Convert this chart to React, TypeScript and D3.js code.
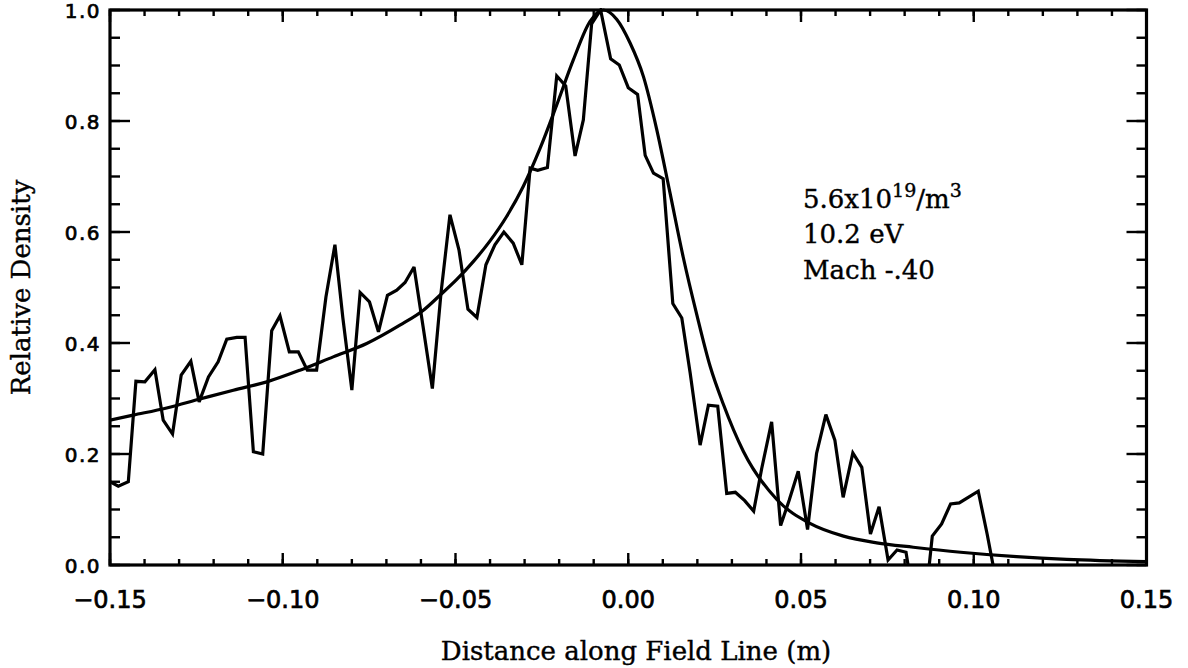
import * as d3 from "d3";

// measured profile (distance in m, relative density)
const distance = [
  -0.15, -0.1476, -0.1447, -0.1425, -0.1399, -0.137, -0.1346, -0.1319, -0.1294, -0.1266,
  -0.1242, -0.1215, -0.1187, -0.1162, -0.1133, -0.1109, -0.1085, -0.1058, -0.1032, -0.1008,
  -0.0981, -0.0955, -0.0929, -0.0902, -0.0875, -0.0849, -0.0826, -0.08, -0.0776, -0.0749,
  -0.0723, -0.0697, -0.067, -0.0646, -0.062, -0.0594, -0.0567, -0.0542, -0.0516, -0.049,
  -0.0464, -0.0438, -0.0412, -0.0386, -0.036, -0.0333, -0.0308, -0.0284, -0.0262, -0.0234,
  -0.0207, -0.0181, -0.0154, -0.013, -0.0106, -0.008, -0.0051, -0.0026, 0.0, 0.0027,
  0.0049, 0.0073, 0.0101, 0.0129, 0.0155, 0.0179, 0.0208, 0.0232, 0.0259, 0.0285,
  0.031, 0.0337, 0.0363, 0.0386, 0.0415, 0.0441, 0.0466, 0.0492, 0.0519, 0.0545,
  0.0572, 0.0598, 0.0622, 0.065, 0.0676, 0.0701, 0.0726, 0.0752, 0.0778, 0.0804,
  0.083, 0.0856, 0.088, 0.0907, 0.0933, 0.0958, 0.0984, 0.1013, 0.1039, 0.1065,
];
const density = [
  0.15, 0.142, 0.15, 0.331, 0.33, 0.352, 0.261, 0.236, 0.342, 0.367,
  0.294, 0.339, 0.366, 0.407, 0.41, 0.41, 0.204, 0.2, 0.422, 0.449,
  0.384, 0.384, 0.351, 0.351, 0.483, 0.577, 0.445, 0.315, 0.491, 0.474,
  0.42, 0.486, 0.495, 0.509, 0.537, 0.43, 0.318, 0.49, 0.631, 0.568,
  0.461, 0.446, 0.541, 0.577, 0.6, 0.58, 0.541, 0.715, 0.711, 0.716,
  0.881, 0.863, 0.737, 0.802, 0.975, 1.0, 0.912, 0.901, 0.86, 0.848,
  0.738, 0.706, 0.696, 0.471, 0.445, 0.347, 0.216, 0.288, 0.286, 0.129,
  0.131, 0.116, 0.097, 0.173, 0.258, 0.071, 0.117, 0.169, 0.064, 0.201,
  0.271, 0.225, 0.122, 0.202, 0.176, 0.056, 0.105, 0.009, 0.027, 0.023,
  -0.08, -0.09, 0.052, 0.074, 0.11, 0.112, 0.122, 0.133, 0.055, -0.03,
];

// model fit curve
const fitDistance = [
  -0.15, -0.1433, -0.1336, -0.124, -0.1143, -0.1046, -0.095, -0.0854, -0.0757, -0.0661,
  -0.0593, -0.0545, -0.0497, -0.0448, -0.04, -0.0352, -0.0304, -0.0255, -0.0207, -0.0159,
  -0.0111, -0.0072, -0.0033, 0.0005, 0.0044, 0.0082, 0.0121, 0.0159, 0.0198, 0.0237,
  0.0275, 0.0333, 0.043, 0.0526, 0.0623, 0.0719, 0.0825, 0.0962, 0.1124, 0.1269, 0.15,
];
const fitDensity = [
  0.261, 0.27, 0.283, 0.299, 0.315, 0.33, 0.351, 0.375, 0.399, 0.432,
  0.459, 0.486, 0.514, 0.547, 0.584, 0.628, 0.682, 0.751, 0.829, 0.91,
  0.979, 1.0, 0.983, 0.941, 0.88, 0.786, 0.67, 0.555, 0.452, 0.358,
  0.29, 0.205, 0.118, 0.075, 0.052, 0.04, 0.032, 0.023, 0.015, 0.01, 0.006,
];

const xTickValues = [-0.15, -0.1, -0.05, 0, 0.05, 0.1, 0.15];
const xTickLabels = ["\u22120.15", "\u22120.10", "\u22120.05", "0.00", "0.05", "0.10", "0.15"];
const yTickValues = [0, 0.2, 0.4, 0.6, 0.8, 1.0];
const yTickLabels = ["0.0", "0.2", "0.4", "0.6", "0.8", "1.0"];
const noteLines = ["10.2 eV", "Mach -.40"];

export default function App() {
  const width = 1188;
  const height = 668;
  const left = 110;
  const right = 1146.5;
  const top = 10;
  const bottom = 565;

  const x = d3.scaleLinear().domain([-0.15, 0.15]).range([left, right]);
  const y = d3.scaleLinear().domain([0, 1]).range([bottom, top]);

  const minorX = x.ticks(30);
  const minorY = y.ticks(20);

  const measured = distance.map((d, i) => [d, density[i]] as [number, number]);
  const fit = fitDistance.map((d, i) => [d, fitDensity[i]] as [number, number]);

  const line = d3
    .line<[number, number]>()
    .x((d) => x(d[0]))
    .y((d) => y(d[1]));
  const smooth = d3
    .line<[number, number]>()
    .x((d) => x(d[0]))
    .y((d) => y(d[1]))
    .curve(d3.curveMonotoneX);

  const sans = "'DejaVu Sans', sans-serif";
  const serif = "'DejaVu Serif', serif";

  return (
    <svg
      width={width}
      height={height}
      style={{ position: "absolute", left: 0, top: 0, background: "#fff" }}
    >
      <defs>
        <clipPath id="plot">
          <rect x={left} y={top - 2} width={right - left} height={bottom - top + 2} />
        </clipPath>
      </defs>

      {/* ticks on all four sides */}
      <g stroke="#000" strokeWidth={2.4}>
        {minorX.map((t, i) => (
          <g key={"mx" + i}>
            <line x1={x(t)} x2={x(t)} y1={bottom} y2={bottom - 6} />
            <line x1={x(t)} x2={x(t)} y1={top} y2={top + 6} />
          </g>
        ))}
        {minorY.map((t, i) => (
          <g key={"my" + i}>
            <line x1={left} x2={left + 10} y1={y(t)} y2={y(t)} />
            <line x1={right} x2={right - 10} y1={y(t)} y2={y(t)} />
          </g>
        ))}
        {xTickValues.map((t, i) => (
          <g key={"Mx" + i}>
            <line x1={x(t)} x2={x(t)} y1={bottom} y2={bottom - 12} />
            <line x1={x(t)} x2={x(t)} y1={top} y2={top + 12} />
          </g>
        ))}
        {yTickValues.map((t, i) => (
          <g key={"My" + i}>
            <line x1={left} x2={left + 20} y1={y(t)} y2={y(t)} />
            <line x1={right} x2={right - 20} y1={y(t)} y2={y(t)} />
          </g>
        ))}
      </g>

      <rect
        x={left}
        y={top}
        width={right - left}
        height={bottom - top}
        fill="none"
        stroke="#000"
        strokeWidth={3.2}
      />

      <g clipPath="url(#plot)" fill="none" stroke="#000" strokeWidth={3.2}>
        <path d={smooth(fit) || ""} />
        <path d={line(measured) || ""} strokeLinejoin="miter" strokeMiterlimit={3} />
      </g>

      {/* tick labels */}
      <g fontFamily={sans} fontSize={24} stroke="#000" strokeWidth={0.7} textAnchor="middle">
        {xTickValues.map((t, i) => (
          <text key={"xl" + i} x={x(t)} y={bottom + 43}>
            {xTickLabels[i]}
          </text>
        ))}
      </g>
      <g
        fontFamily={sans}
        fontSize={20}
        stroke="#000"
        strokeWidth={0.7}
        textAnchor="end"
        letterSpacing={1.5}
      >
        {yTickValues.map((t, i) => (
          <text key={"yl" + i} x={left - 9} y={y(t) + 8}>
            {yTickLabels[i]}
          </text>
        ))}
      </g>

      {/* axis titles */}
      <g fontFamily={serif} fontSize={26} stroke="#000" strokeWidth={0.4}>
        <text x={636} y={660} textAnchor="middle">
          Distance along Field Line (m)
        </text>
        <text
          transform={`translate(30, ${(top + bottom) / 2}) rotate(-90)`}
          textAnchor="middle"
        >
          Relative Density
        </text>
      </g>

      {/* annotation */}
      <g fontFamily={serif} fontSize={26} stroke="#000" strokeWidth={0.4}>
        <text x={803} y={208}>
          5.6x10
          <tspan dy={-11} fontSize={19}>19</tspan>
          <tspan dy={11}>/m</tspan>
          <tspan dy={-11} fontSize={19}>3</tspan>
        </text>
        {noteLines.map((s, i) => (
          <text key={s} x={803} y={243 + i * 36}>
            {s}
          </text>
        ))}
      </g>
    </svg>
  );
}
